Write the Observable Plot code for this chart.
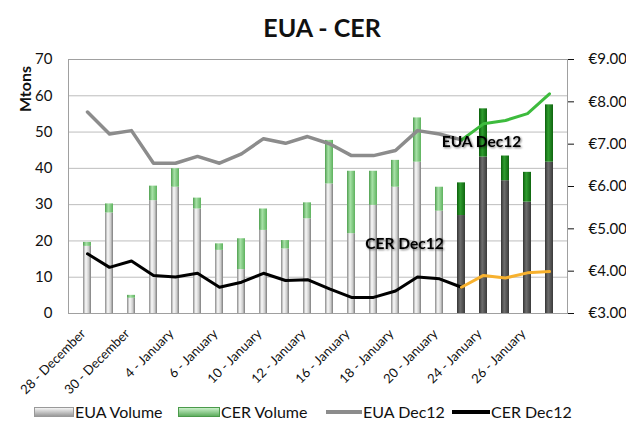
<!DOCTYPE html>
<html><head><meta charset="utf-8">
<script src="https://cdn.jsdelivr.net/npm/d3@7"></script>
<script src="https://cdn.jsdelivr.net/npm/@observablehq/plot@0.6"></script>
<style>
body{margin:0;background:#fff;font-family:Lato,"Open Sans",sans-serif;color:#111;}
#wrap{position:relative;width:626px;height:423px;overflow:hidden;}
#title{position:absolute;top:12px;left:9px;width:626px;text-align:center;font-weight:bold;font-size:25px;line-height:30px;}
#ylab{position:absolute;left:24px;top:89px;transform:translate(-50%,-50%) rotate(-90deg);font-weight:bold;font-size:16px;white-space:nowrap;}
#chart{position:absolute;top:40px;left:0;}
#chart svg{overflow:visible;}
.leg{position:absolute;top:402px;font-size:16px;line-height:20px;display:flex;align-items:center;white-space:nowrap;}
.sw{display:inline-block;margin-right:1px;}
</style></head>
<body><div id="wrap"><div id="title">EUA - CER</div><div id="ylab">Mtons</div><div id="chart"></div><div id="legend"></div></div>
<script>
const dates = ["28 - December","29 - December","30 - December","3 - January","4 - January","5 - January","6 - January","7 - January","10 - January","11 - January","12 - January","13 - January","16 - January","17 - January","18 - January","19 - January","20 - January","21 - January","24 - January","25 - January","26 - January","27 - January"];
const tickLabels = ["28 - December","30 - December","4 - January","6 - January","10 - January","12 - January","16 - January","18 - January","20 - January","24 - January","26 - January"];
const euaVolume = [18.5,27.7,4.2,31.1,34.8,28.8,17.4,12.1,22.9,17.8,26.1,35.7,22.0,29.8,34.8,41.7,28.2,27.0,43.1,36.6,30.7,41.7];
const totalVolume = [19.6,30.2,5.0,35.1,39.9,31.8,19.2,20.6,28.8,20.1,30.5,47.7,39.2,39.2,42.2,53.9,34.8,36.0,56.4,43.4,38.9,57.5];
const cerVolume = totalVolume.map((t,i)=>+(t-euaVolume[i]).toFixed(1));
const euaDec12 = [7.76,7.24,7.32,6.55,6.55,6.71,6.55,6.77,7.13,7.02,7.18,7.01,6.73,6.73,6.85,7.32,7.24,7.10,7.48,7.56,7.72,8.19];
const cerDec12 = [4.41,4.09,4.24,3.90,3.86,3.95,3.62,3.74,3.95,3.78,3.80,3.58,3.38,3.38,3.53,3.86,3.82,3.62,3.90,3.84,3.96,3.99];
const firstForward = 17; // from this index bars are dark and lines change colour
const volumeTicks = [0,10,20,30,40,50,60,70];
const priceTicks = [3,4,5,6,7,8,9];
const annotations = [{date:"24 - January", price:7.06, text:"EUA Dec12", dx:-2},{date:"18 - January", price:4.63, text:"CER Dec12", dx:9}];
const legendItems = [
  {name:"EUA Volume", kind:"box", left:34, w:38, bg:"linear-gradient(#f4f4f4,#9a9a9a)"},
  {name:"CER Volume", kind:"box", left:178, w:40, bg:"linear-gradient(#c9efc9,#5fae5f)"},
  {name:"EUA Dec12", kind:"line", left:326, w:36, bg:"#8c8c8c"},
  {name:"CER Dec12", kind:"line", left:452, w:38, bg:"#000"}
];

const pMin = 3, pMax = 9, vMax = 70;
const toY = p => (p - pMin) * vMax / (pMax - pMin);
const fromY = v => v * (pMax - pMin) / vMax + pMin;

const rows = dates.map((d,i)=>({date:d, i, eua:euaVolume[i], cer:cerVolume[i], top:euaVolume[i]+cerVolume[i], euaP:euaDec12[i], cerP:cerDec12[i], dark:i>=firstForward}));
const light = rows.filter(r=>!r.dark), dark = rows.filter(r=>r.dark);
const lineA = rows.filter(r=>r.i<=firstForward), lineB = rows.filter(r=>r.i>=firstForward);

const svg = Plot.plot({
  width:626, height:362, marginTop:19, marginBottom:89, marginLeft:68, marginRight:59,
  style:{fontFamily:"Lato, 'Open Sans', sans-serif", color:"#111", background:"transparent", overflow:"visible"},
  x:{type:"band", domain:dates, paddingInner:0.64, paddingOuter:0.32},
  y:{domain:[0,vMax]},
  marks:[
    Plot.gridY(volumeTicks, {stroke:"#bdbdbd", strokeOpacity:1, strokeWidth:1}),
    Plot.frame({stroke:"#a0a0a0"}),
    Plot.barY(light, {x:"date", y1:0, y2:"eua", fill:"url(#gLight)"}),
    Plot.barY(dark, {x:"date", y1:0, y2:"eua", fill:"url(#gDark)"}),
    Plot.barY(light, {x:"date", y1:"eua", y2:"top", fill:"url(#gGreenL)"}),
    Plot.barY(dark, {x:"date", y1:"eua", y2:"top", fill:"url(#gGreenD)"}),
    Plot.line(lineA, {x:"date", y:d=>toY(d.euaP), stroke:"#8c8c8c", strokeWidth:3.5}),
    Plot.line(lineB, {x:"date", y:d=>toY(d.euaP), stroke:"#3dbb3d", strokeWidth:3}),
    Plot.line(lineA, {x:"date", y:d=>toY(d.cerP), stroke:"#000", strokeWidth:3}),
    Plot.line(lineB, {x:"date", y:d=>toY(d.cerP), stroke:"#f7b12e", strokeWidth:3}),
    Plot.text(annotations, {x:"date", y:d=>toY(d.price), text:"text", fontWeight:"bold", fontSize:15.5, fill:"#000"}),
    Plot.axisY({ticks:volumeTicks, tickSize:0, tickPadding:16, fontSize:15, label:null}),
    Plot.axisY({anchor:"right", ticks:priceTicks.map(toY), tickFormat:v=>"€"+fromY(v).toFixed(2), tickSize:6, tickPadding:15, fontSize:15, label:null}),
    Plot.axisX({ticks:tickLabels, tickSize:0, tickRotate:-45, tickPadding:18, fontSize:13, label:null, dx:-4})
  ]
});
svg.insertAdjacentHTML("afterbegin", `<defs>
<linearGradient id="gLight" x1="0" x2="1" y1="0" y2="0"><stop offset="0" stop-color="#8a8a8a"/><stop offset="0.35" stop-color="#fafafa"/><stop offset="0.7" stop-color="#cfcfcf"/><stop offset="1" stop-color="#7c7c7c"/></linearGradient>
<linearGradient id="gDark" x1="0" x2="1" y1="0" y2="0"><stop offset="0" stop-color="#333"/><stop offset="0.4" stop-color="#6e6e6e"/><stop offset="1" stop-color="#3a3a3a"/></linearGradient>
<linearGradient id="gGreenL" x1="0" x2="1" y1="0" y2="0"><stop offset="0" stop-color="#4f9f4f"/><stop offset="0.4" stop-color="#a8e2a8"/><stop offset="1" stop-color="#5eb25e"/></linearGradient>
<linearGradient id="gGreenD" x1="0" x2="1" y1="0" y2="0"><stop offset="0" stop-color="#0b5e0b"/><stop offset="0.4" stop-color="#2f9d2f"/><stop offset="1" stop-color="#0f650f"/></linearGradient>
</defs>`);
svg.querySelectorAll('g[aria-label="text"] text').forEach((t,k)=>{
  t.setAttribute("transform", (t.getAttribute("transform")||"") + ` translate(${annotations[k].dx},0)`);
  t.style.filter = "drop-shadow(1.5px 1.5px 1.2px rgba(0,0,0,0.55))";
});
document.getElementById("chart").appendChild(svg);

const leg = document.getElementById("legend");
legendItems.forEach(it=>{
  const d = document.createElement("div"); d.className="leg"; d.style.left=it.left+"px";
  const s = document.createElement("span"); s.className="sw";
  s.style.width=it.w+"px"; s.style.height=(it.kind==="box"?8:4)+"px"; s.style.background=it.bg;
  if(it.kind==="box") s.style.border="1px solid "+(it.name.startsWith("EUA")?"#999":"#4a9a4a");
  d.appendChild(s); d.appendChild(document.createTextNode(it.name)); leg.appendChild(d);
});
</script></body></html>
